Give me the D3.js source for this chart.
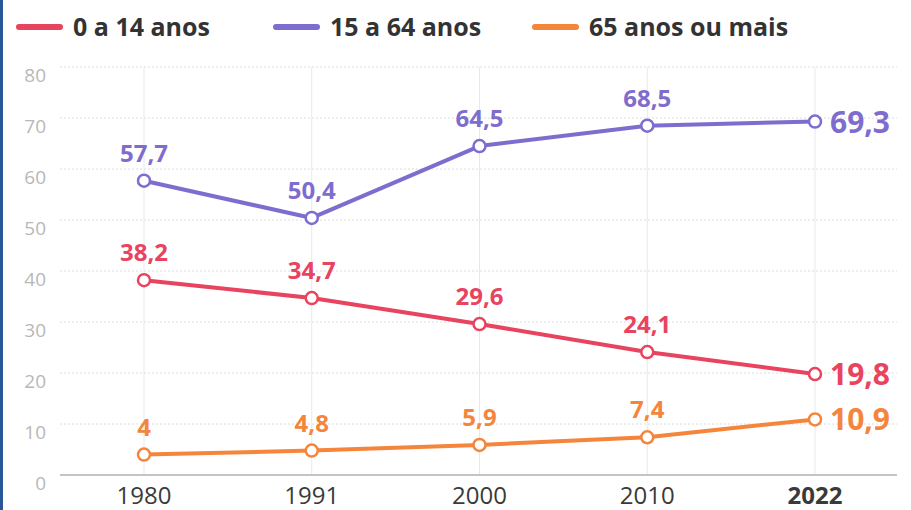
<html lang="pt">
<head>
    <meta charset="UTF-8">
    <title>faixas etarias</title>
    <style>
        body { margin: 0; background: #fff; }
        svg { display: block; font-family: "Open Sans", sans-serif; }
    </style>
</head>
<body>
<script src="https://d3js.org/d3.v7.min.js"></script>
<script>
    var years = ["1980", "1991", "2000", "2010", "2022"];
    var seriesNames = ["0 a 14 anos", "15 a 64 anos", "65 anos ou mais"];
    var kids = [38.2, 34.7, 29.6, 24.1, 19.8];
    var adults = [57.7, 50.4, 64.5, 68.5, 69.3];
    var elders = [4, 4.8, 5.9, 7.4, 10.9];
    var yTicks = [0, 10, 20, 30, 40, 50, 60, 70, 80];
    var colors = ["#e8435f", "#7e6ccf", "#f5853b"];

    var series = [
        { name: seriesNames[0], values: kids, color: colors[0] },
        { name: seriesNames[1], values: adults, color: colors[1] },
        { name: seriesNames[2], values: elders, color: colors[2] }
    ];

    var width = 911, height = 510;
    var svg = d3.select("body").append("svg").attr("width", width).attr("height", height);

    var x = d3.scalePoint().domain(years).range([144, 815]);
    var y = d3.scaleLinear().domain([0, 80]).range([475, 67]);
    var fmt = function (v) { return String(v).replace(".", ","); };

    // borda azul a esquerda
    svg.append("rect").attr("x", 0).attr("y", 0).attr("width", 3).attr("height", height).attr("fill", "#2a5596");

    // grade horizontal
    svg.selectAll(".hgrid").data(yTicks.slice(1)).enter().append("line")
        .attr("x1", 60).attr("x2", 897)
        .attr("y1", function (d) { return y(d); })
        .attr("y2", function (d) { return y(d); })
        .attr("stroke", "#dcdcdc").attr("stroke-width", 1).attr("stroke-dasharray", "2,2");

    // grade vertical
    svg.selectAll(".vgrid").data(years).enter().append("line")
        .attr("x1", function (d) { return x(d); })
        .attr("x2", function (d) { return x(d); })
        .attr("y1", y(80)).attr("y2", y(0))
        .attr("stroke", "#e6e9ec").attr("stroke-width", 1);

    // eixo x
    svg.append("line").attr("x1", 60).attr("x2", 897).attr("y1", y(0)).attr("y2", y(0))
        .attr("stroke", "#c4c4c4").attr("stroke-width", 2);

    svg.selectAll(".ylab").data(yTicks).enter().append("text")
        .attr("x", 46).attr("y", function (d) { return y(d) + 15; })
        .attr("text-anchor", "end").attr("font-size", 19).attr("fill", "#b8b8b8")
        .text(function (d) { return d; });

    svg.selectAll(".xlab").data(years).enter().append("text")
        .attr("x", function (d) { return x(d); }).attr("y", 504)
        .attr("text-anchor", "middle").attr("font-size", 24).attr("fill", "#3a3a3a")
        .attr("font-weight", function (d, i) { return i === years.length - 1 ? 700 : 400; })
        .text(function (d) { return d; });

    var line = d3.line()
        .x(function (d, i) { return x(years[i]); })
        .y(function (d) { return y(d); });

    var groups = svg.selectAll(".serie").data(series).enter().append("g");

    groups.append("path")
        .attr("d", function (s) { return line(s.values); })
        .attr("fill", "none").attr("stroke", function (s) { return s.color; })
        .attr("stroke-width", 4).attr("stroke-linejoin", "round");

    groups.each(function (s) {
        var g = d3.select(this);
        g.selectAll("circle").data(s.values).enter().append("circle")
            .attr("cx", function (d, i) { return x(years[i]); })
            .attr("cy", function (d) { return y(d); })
            .attr("r", 6).attr("fill", "#fff")
            .attr("stroke", s.color).attr("stroke-width", 2.5);

        g.selectAll("text").data(s.values).enter().append("text")
            .attr("x", function (d, i) { return i === years.length - 1 ? x(years[i]) + 15 : x(years[i]); })
            .attr("y", function (d, i) { return i === years.length - 1 ? y(d) + 11 : y(d) - 19; })
            .attr("text-anchor", function (d, i) { return i === years.length - 1 ? "start" : "middle"; })
            .attr("font-size", function (d, i) { return i === years.length - 1 ? 30 : 24; })
            .attr("font-weight", 700).attr("fill", s.color)
            .text(function (d) { return fmt(d); });
    });

    // legenda
    var legendX = [19, 276, 535];
    var legend = svg.selectAll(".leg").data(series).enter().append("g")
        .attr("transform", function (d, i) { return "translate(" + legendX[i] + ",27)"; });
    legend.append("line").attr("x1", 0).attr("x2", 41).attr("y1", 0).attr("y2", 0)
        .attr("stroke", function (d) { return d.color; }).attr("stroke-width", 6).attr("stroke-linecap", "round");
    legend.append("text").attr("x", 54).attr("y", 9)
        .attr("font-size", 25).attr("font-weight", 700).attr("fill", "#333")
        .text(function (d) { return d.name; });
</script>
</body>
</html>
